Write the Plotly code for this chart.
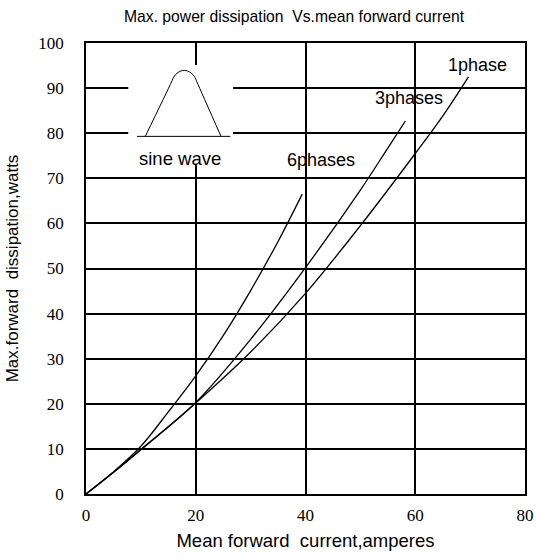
import plotly.graph_objects as go

# ---- data ----
one_x = [0, 5, 10, 20, 30, 40, 50, 60, 65, 69.7]
one_y = [0, 4.8, 9.8, 20.2, 31.5, 44.5, 59.5, 75.5, 83.8, 92.5]

three_x = [0, 5, 10, 20, 30, 40, 50, 55, 58.2]
three_y = [0, 4.8, 9.9, 20.3, 34.3, 50.2, 67.4, 76.7, 82.7]

six_x = [0, 5, 10, 15, 20, 25, 30, 35, 39.4]
six_y = [0, 4.9, 10.6, 18.2, 26.2, 35.1, 45.1, 56.0, 66.5]

# sine-wave inset sketch
inset_box_x = [7.7, 26.8]
inset_box_y = [73.2, 95.1]
inset_base_x = [9.3, 26.3]
inset_base_y = [79.3, 79.3]
hump_x = [10.8, 15.6, 16.0, 16.6, 17.3, 17.9, 18.5, 19.2, 19.8, 20.2, 24.6]
hump_y = [79.3, 91.4, 92.5, 93.3, 93.8, 93.9, 93.8, 93.3, 92.5, 91.4, 79.3]

curve_labels = ["1phase", "3phases", "6phases", "sine wave"]
label_x = [71.4, 58.8, 42.9, 17.2]
label_y = [95.1, 87.8, 74.1, 74.5]

x_ticks = [0, 20, 40, 60, 80]
y_ticks = [0, 10, 20, 30, 40, 50, 60, 70, 80, 90, 100]

title_text = "Max. power dissipation  Vs.mean forward current"
x_title = "Mean forward  current,amperes"
y_title = "Max.forward  dissipation,watts"

SANS = "Liberation Sans"
SERIF = "Times New Roman, Liberation Serif, DejaVu Serif, serif"

fig = go.Figure()
for xs, ys in [(one_x, one_y), (three_x, three_y), (six_x, six_y)]:
    fig.add_trace(go.Scatter(x=xs, y=ys, mode="lines", line=dict(color="black", width=1.3, shape="spline"),
                             showlegend=False, hoverinfo="skip", cliponaxis=False))

# white box behind the inset (covers gridlines)
fig.add_shape(type="rect", xref="x", yref="y", x0=inset_box_x[0], x1=inset_box_x[1],
              y0=inset_box_y[0], y1=inset_box_y[1], fillcolor="white", line=dict(width=0), layer="between")

fig.add_trace(go.Scatter(x=inset_base_x, y=inset_base_y, mode="lines", line=dict(color="black", width=1),
                         showlegend=False, hoverinfo="skip"))
fig.add_trace(go.Scatter(x=hump_x, y=hump_y, mode="lines", line=dict(color="black", width=1, shape="spline"),
                         showlegend=False, hoverinfo="skip"))

for t, lx, ly in zip(curve_labels, label_x, label_y):
    fig.add_annotation(x=lx, y=ly, text=t, showarrow=False, xref="x", yref="y",
                       font=dict(family=SANS, size=18.5 if t == "sine wave" else 18, color="black"))

fig.update_layout(
    width=536, height=559,
    margin=dict(l=86, r=11, t=43, b=65, autoexpand=False),
    paper_bgcolor="white", plot_bgcolor="white",
    title=dict(text=title_text, x=124 / 536, xanchor="left", xref="container",
               y=1 - 17 / 559, yref="container", yanchor="middle", automargin=False,
               font=dict(family=SANS, size=15.7, color="black")),
    xaxis=dict(range=[0, 80], tickvals=x_ticks, showgrid=True, gridcolor="black", gridwidth=1.5,
               showline=True, linecolor="black", linewidth=1.5, mirror=True, zeroline=False,
               ticks="", ticklabelstandoff=5, automargin=False,
               tickfont=dict(family=SERIF, size=17, color="black"),
               title=dict(text=x_title, font=dict(family=SANS, size=18.5, color="black"), standoff=10)),
    yaxis=dict(range=[0, 100], tickvals=y_ticks, showgrid=True, gridcolor="black", gridwidth=1.5,
               showline=True, linecolor="black", linewidth=1.5, mirror=True, zeroline=False,
               ticks="", ticklabelstandoff=17, automargin=False,
               tickfont=dict(family=SERIF, size=17, color="black"),
               title=dict(text=y_title, font=dict(family=SANS, size=17, color="black"), standoff=15)),
)

fig.write_html("out.html", config={"displayModeBar": False},
               post_script="document.body.style.margin='0';document.body.style.overflow='hidden';")
